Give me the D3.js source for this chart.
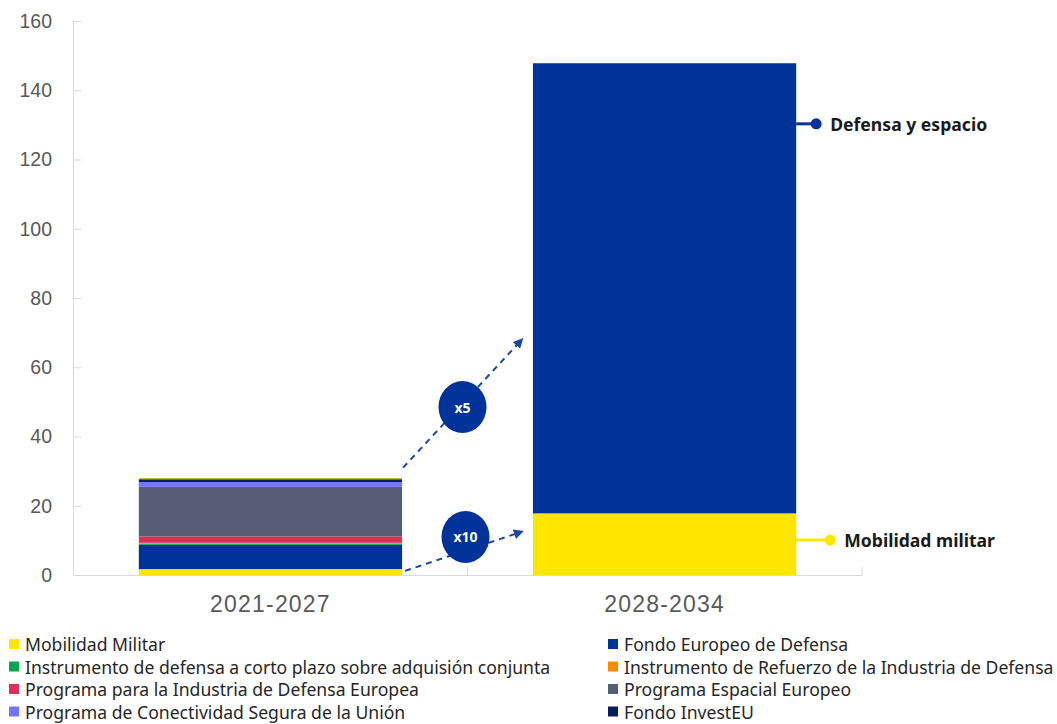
<!doctype html>
<html>
  <head>
    <meta charset="utf-8">
    <title>Defensa y espacio</title>
    <script src="https://cdnjs.cloudflare.com/ajax/libs/d3/7.8.5/d3.min.js"></script>
    <style>
      html, body {
        margin: 0;
        padding: 0;
        overflow: hidden;
        background: #fff;
      }
      body {
        font-family: "Noto Sans", sans-serif;
      }
    </style>
  </head>
  <body>
    <div id="chart"></div>

    <script>
      // periods on the x axis
      const periods = ['2021-2027', '2028-2034'];

      // stacked series, bottom to top (values in billions of euro)
      const seriesNames = [
        'Mobilidad Militar',
        'Fondo Europeo de Defensa',
        'Instrumento de defensa a corto plazo sobre adquisión conjunta',
        'Instrumento de Refuerzo de la Industria de Defensa',
        'Programa para la Industria de Defensa Europea',
        'Programa Espacial Europeo',
        'Programa de Conectividad Segura de la Unión',
        'Fondo InvestEU',
        'Otros',
        'Defensa y espacio'
      ];
      const seriesColors = [
        '#ffe600', '#00339a', '#00a94f', '#ff8a00', '#d6335c',
        '#555e75', '#7474ff', '#0b1d5a', '#b8a800', '#00339a'
      ];
      const values2021 = [1.7, 7.0, 0.3, 0.3, 1.85, 14.3, 1.4, 0.8, 0.3, 0];
      const values2028 = [17.8, 0, 0, 0, 0, 0, 0, 0, 0, 130];

      // legend entries (two columns, as in the original)
      const legendLeft = [0, 2, 4, 6];
      const legendRight = [1, 3, 5, 7];

      const yTicks = [0, 20, 40, 60, 80, 100, 120, 140, 160];

      const width = 1057, height = 724;
      const margin = { top: 21, right: 195, bottom: 149, left: 73 };

      const svg = d3.select('#chart')
        .append('svg')
        .attr('width', width)
        .attr('height', height);

      const x = d3.scaleBand()
        .domain(periods)
        .range([margin.left, width - margin.right])
        .paddingInner(0.332)
        .paddingOuter(0.167);

      const y = d3.scaleLinear()
        .domain([0, 160])
        .range([height - margin.bottom, margin.top]);

      // build rows for d3.stack
      const rows = periods.map((p, i) => {
        const row = { period: p };
        const vals = i === 0 ? values2021 : values2028;
        seriesNames.forEach((s, j) => { row[s] = vals[j]; });
        return row;
      });

      const stacked = d3.stack().keys(seriesNames)(rows);

      svg.append('g')
        .selectAll('g')
        .data(stacked)
        .join('g')
        .attr('fill', (d, i) => seriesColors[i])
        .selectAll('rect')
        .data(d => d)
        .join('rect')
        .attr('x', d => x(d.data.period))
        .attr('width', x.bandwidth())
        .attr('y', d => y(d[1]))
        .attr('height', d => y(d[0]) - y(d[1]));

      // y axis
      const yAxis = svg.append('g')
        .attr('transform', `translate(${margin.left},0)`)
        .call(d3.axisLeft(y).tickValues(yTicks).tickSizeInner(-8).tickSizeOuter(0).tickPadding(21));
      yAxis.select('.domain').attr('stroke', '#d9d9d9');
      yAxis.selectAll('.tick line').attr('stroke', '#d9d9d9');
      yAxis.selectAll('text')
        .attr('fill', '#595959')
        .style('font-size', '19.5px');

      // x axis
      const xAxis = svg.append('g')
        .attr('transform', `translate(0,${y(0)})`)
        .call(d3.axisBottom(x).tickSize(0).tickPadding(21));
      xAxis.select('.domain').attr('stroke', '#d9d9d9');
      xAxis.selectAll('text')
        .attr('fill', '#595959')
        .style('font-size', '23px')
        .style('letter-spacing', '1.2px');

      // category boundary ticks pointing up
      const bounds = [
        (x(periods[0]) + x.bandwidth() + x(periods[1])) / 2,
        x.range()[1]
      ];
      svg.append('g')
        .selectAll('line')
        .data(bounds)
        .join('line')
        .attr('x1', d => d).attr('x2', d => d)
        .attr('y1', y(0)).attr('y2', y(0) - 8)
        .attr('stroke', '#d9d9d9');

      // arrow marker
      const defs = svg.append('defs');
      defs.append('marker')
        .attr('id', 'arrow')
        .attr('viewBox', '0 0 10 10')
        .attr('refX', 8).attr('refY', 5)
        .attr('markerWidth', 5).attr('markerHeight', 5)
        .attr('orient', 'auto')
        .append('path')
        .attr('d', 'M0,0 L10,5 L0,10 z')
        .attr('fill', '#1f45a5');

      const bar1Right = x(periods[0]) + x.bandwidth();
      const bar2Left = x(periods[1]);
      const mid = bounds[0];

      const arrows = [
        { from: [bar1Right + 1, 31], to: [bar2Left - 11, 68], label: 'x5', cx: mid - 5, cy: 48.5 },
        { from: [bar1Right + 3, 1.2], to: [bar2Left - 11, 12.5], label: 'x10', cx: mid - 2, cy: 11.0 }
      ];

      arrows.forEach(a => {
        svg.append('line')
          .attr('x1', a.from[0]).attr('y1', y(a.from[1]))
          .attr('x2', a.to[0]).attr('y2', y(a.to[1]))
          .attr('stroke', '#1f45a5')
          .attr('stroke-width', 2)
          .attr('stroke-dasharray', '6,5')
          .attr('marker-end', 'url(#arrow)');
        svg.append('ellipse')
          .attr('cx', a.cx).attr('cy', y(a.cy))
          .attr('rx', 24).attr('ry', 26)
          .attr('fill', '#00339a');
        svg.append('text')
          .attr('x', a.cx).attr('y', y(a.cy))
          .attr('text-anchor', 'middle')
          .attr('dominant-baseline', 'central')
          .attr('fill', '#fff')
          .style('font-size', '14px')
          .style('font-weight', 'bold')
          .text(a.label);
      });

      // right side labels
      const bar2Right = x(periods[1]) + x.bandwidth();
      const callouts = [
        { text: 'Defensa y espacio', value: 130.3, len: 20, color: '#00339a' },
        { text: 'Mobilidad militar', value: 10.1, len: 34, color: '#ffe600' }
      ];
      callouts.forEach(c => {
        const cy = y(c.value);
        svg.append('line')
          .attr('x1', bar2Right).attr('x2', bar2Right + c.len)
          .attr('y1', cy).attr('y2', cy)
          .attr('stroke', c.color)
          .attr('stroke-width', 3);
        svg.append('circle')
          .attr('cx', bar2Right + c.len).attr('cy', cy)
          .attr('r', 5.5)
          .attr('fill', c.color);
        svg.append('text')
          .attr('x', bar2Right + c.len + 14)
          .attr('y', cy)
          .attr('dominant-baseline', 'central')
          .attr('fill', '#1a1a1a')
          .style('font-size', '17.6px')
          .style('font-weight', 'bold')
          .text(c.text);
      });

      // legend
      const legendRowY = d3.scaleLinear().domain([0, 1]).range([644, 666.5]);
      const columns = [
        { items: legendLeft, x: 9 },
        { items: legendRight, x: 608 }
      ];
      columns.forEach(col => {
        const g = svg.append('g');
        col.items.forEach((idx, r) => {
          const cy = legendRowY(r);
          g.append('rect')
            .attr('x', col.x).attr('y', cy - 5)
            .attr('width', 10).attr('height', 10)
            .attr('fill', seriesColors[idx]);
          g.append('text')
            .attr('x', col.x + 16).attr('y', cy)
            .attr('dominant-baseline', 'central')
            .attr('fill', '#262626')
            .style('font-size', '17.6px')
            .text(seriesNames[idx]);
        });
      });
    </script>
  </body>
</html>
